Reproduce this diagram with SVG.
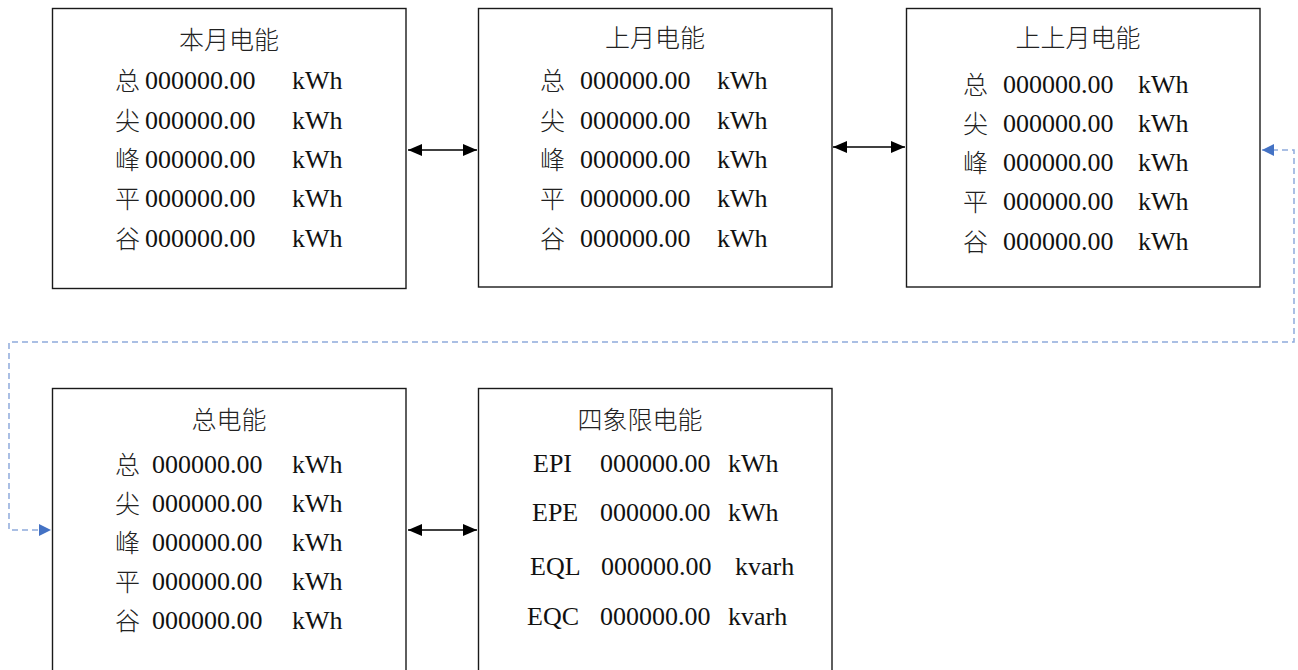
<svg xmlns="http://www.w3.org/2000/svg" width="1298" height="670" viewBox="0 0 1298 670">
<defs>
<style>
.box{fill:#fff;stroke:#1a1a1a;stroke-width:1.4}
text{font-family:"Liberation Serif","Noto Sans CJK SC",serif;font-size:26px;fill:#111}
.cjk{font-family:"Noto Sans CJK SC","Liberation Serif",sans-serif;font-size:25px;font-weight:300;fill:#222}
.conn{stroke:#000;stroke-width:1.3;fill:none}
.dash{stroke:#8FAADC;stroke-width:1.5;fill:none;stroke-dasharray:6 4}
</style>
<marker id="ab" viewBox="0 0 14 12" refX="14" refY="6" markerWidth="14" markerHeight="12" markerUnits="userSpaceOnUse" orient="auto-start-reverse">
<path d="M0,0 L14,6 L0,12 z" fill="#000"/>
</marker>
<marker id="ablue" viewBox="0 0 12 12" refX="12" refY="6" markerWidth="12" markerHeight="12" markerUnits="userSpaceOnUse" orient="auto-start-reverse">
<path d="M0,0 L12,6 L0,12 z" fill="#4472C4"/>
</marker>
</defs>
<rect width="1298" height="670" fill="#fff"/>

<g id="node-this-month">
<rect class="box" x="52.5" y="8.5" width="353.5" height="280"/>
<text class="cjk" x="229" y="49" text-anchor="middle">本月电能</text>
<text class="cjk" x="115" y="90">总</text><text x="145" y="89">000000.00</text><text x="292" y="89">kWh</text>
<text class="cjk" x="115" y="130">尖</text><text x="145" y="129">000000.00</text><text x="292" y="129">kWh</text>
<text class="cjk" x="115" y="169">峰</text><text x="145" y="168">000000.00</text><text x="292" y="168">kWh</text>
<text class="cjk" x="115" y="208">平</text><text x="145" y="207">000000.00</text><text x="292" y="207">kWh</text>
<text class="cjk" x="115" y="248">谷</text><text x="145" y="247">000000.00</text><text x="292" y="247">kWh</text>
</g>

<g id="node-last-month">
<rect class="box" x="478.5" y="8.5" width="353.5" height="278.5"/>
<text class="cjk" x="655" y="47" text-anchor="middle">上月电能</text>
<text class="cjk" x="540" y="90">总</text><text x="580" y="89">000000.00</text><text x="717" y="89">kWh</text>
<text class="cjk" x="540" y="130">尖</text><text x="580" y="129">000000.00</text><text x="717" y="129">kWh</text>
<text class="cjk" x="540" y="169">峰</text><text x="580" y="168">000000.00</text><text x="717" y="168">kWh</text>
<text class="cjk" x="540" y="208">平</text><text x="580" y="207">000000.00</text><text x="717" y="207">kWh</text>
<text class="cjk" x="540" y="248">谷</text><text x="580" y="247">000000.00</text><text x="717" y="247">kWh</text>
</g>

<g id="node-month-before-last">
<rect class="box" x="906.5" y="8.5" width="353.5" height="278.5"/>
<text class="cjk" x="1078" y="47" text-anchor="middle">上上月电能</text>
<text class="cjk" x="963" y="94">总</text><text x="1003" y="93">000000.00</text><text x="1138" y="93">kWh</text>
<text class="cjk" x="963" y="133">尖</text><text x="1003" y="132">000000.00</text><text x="1138" y="132">kWh</text>
<text class="cjk" x="963" y="172">峰</text><text x="1003" y="171">000000.00</text><text x="1138" y="171">kWh</text>
<text class="cjk" x="963" y="211">平</text><text x="1003" y="210">000000.00</text><text x="1138" y="210">kWh</text>
<text class="cjk" x="963" y="251">谷</text><text x="1003" y="250">000000.00</text><text x="1138" y="250">kWh</text>
</g>

<g id="node-total">
<rect class="box" x="52.5" y="388.5" width="353.5" height="300"/>
<text class="cjk" x="229" y="429" text-anchor="middle">总电能</text>
<text class="cjk" x="115" y="474">总</text><text x="152" y="473">000000.00</text><text x="292" y="473">kWh</text>
<text class="cjk" x="115" y="513">尖</text><text x="152" y="512">000000.00</text><text x="292" y="512">kWh</text>
<text class="cjk" x="115" y="552">峰</text><text x="152" y="551">000000.00</text><text x="292" y="551">kWh</text>
<text class="cjk" x="115" y="591">平</text><text x="152" y="590">000000.00</text><text x="292" y="590">kWh</text>
<text class="cjk" x="115" y="630">谷</text><text x="152" y="629">000000.00</text><text x="292" y="629">kWh</text>
</g>

<g id="node-four-quadrant">
<rect class="box" x="478.5" y="388.5" width="353.5" height="300"/>
<text class="cjk" x="640" y="429" text-anchor="middle">四象限电能</text>
<text x="533" y="472">EPI</text><text x="600" y="472">000000.00</text><text x="728" y="472">kWh</text>
<text x="532" y="521">EPE</text><text x="600" y="521">000000.00</text><text x="728" y="521">kWh</text>
<text x="530" y="575">EQL</text><text x="601" y="575">000000.00</text><text x="735" y="575">kvarh</text>
<text x="527" y="625">EQC</text><text x="600" y="625">000000.00</text><text x="728" y="625">kvarh</text>
</g>

<g id="connectors">
<line class="conn" x1="408" y1="150" x2="477" y2="150" marker-start="url(#ab)" marker-end="url(#ab)"/>
<line class="conn" x1="833" y1="147" x2="905" y2="147" marker-start="url(#ab)" marker-end="url(#ab)"/>
<line class="conn" x1="408" y1="530" x2="477" y2="530" marker-start="url(#ab)" marker-end="url(#ab)"/>
<path class="dash" d="M1262,150 H1294 V342 H9 V530 H51" marker-start="url(#ablue)" marker-end="url(#ablue)"/>
</g>
</svg>
